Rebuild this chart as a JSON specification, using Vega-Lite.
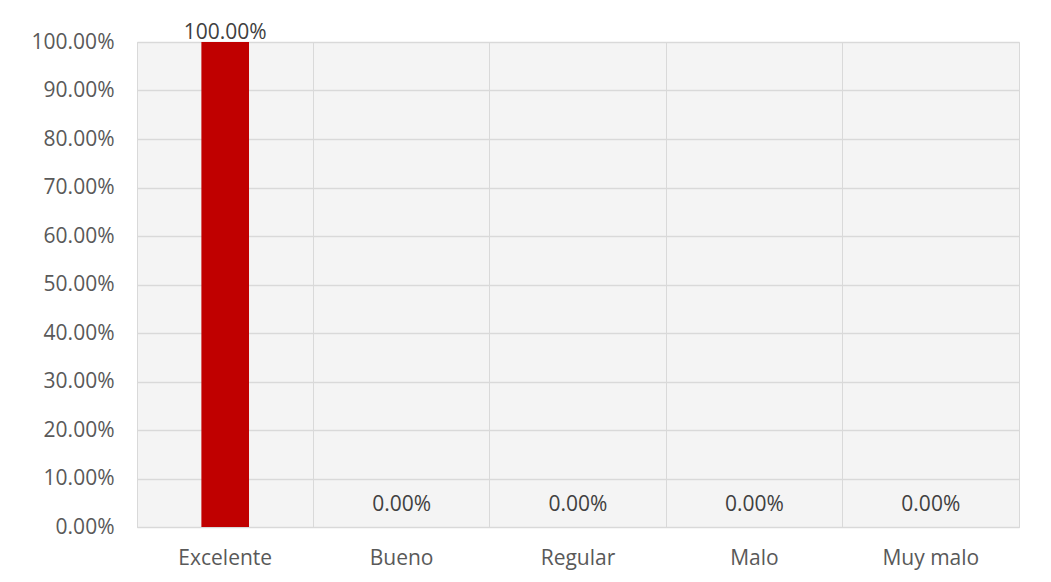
{
  "$schema": "https://vega.github.io/schema/vega-lite/v6.json",
  "width": 882,
  "height": 485,
  "autosize": {"type": "none"},
  "padding": {"left": 137, "top": 42, "right": 32, "bottom": 55},
  "background": "white",
  "config": {
    "font": "Open Sans",
    "view": {"stroke": "#d9d9d9", "strokeWidth": 1, "fill": "#f4f4f4"}
  },
  "data": {
    "values": [
      {"categoria": "Excelente", "porcentaje": 1.0},
      {"categoria": "Bueno", "porcentaje": 0.0},
      {"categoria": "Regular", "porcentaje": 0.0},
      {"categoria": "Malo", "porcentaje": 0.0},
      {"categoria": "Muy malo", "porcentaje": 0.0}
    ]
  },
  "encoding": {
    "x": {
      "field": "categoria",
      "type": "nominal",
      "sort": null,
      "scale": {"paddingInner": 0, "paddingOuter": 0},
      "axis": {
        "title": null,
        "labelAngle": 0,
        "labelFont": "Open Sans",
        "labelFontSize": 21,
        "labelColor": "#595959",
        "labelPadding": 20,
        "ticks": false,
        "domain": true,
        "domainColor": "#d9d9d9",
        "grid": true,
        "gridColor": "#d9d9d9",
        "bandPosition": 0
      }
    },
    "y": {
      "field": "porcentaje",
      "type": "quantitative",
      "scale": {"domain": [0, 1], "nice": false},
      "axis": {
        "title": null,
        "format": ".2%",
        "values": [0, 0.1, 0.2, 0.3, 0.4, 0.5, 0.6, 0.7, 0.8, 0.9, 1.0],
        "labelFont": "Open Sans",
        "labelFontSize": 21,
        "labelColor": "#595959",
        "labelPadding": 23,
        "ticks": false,
        "domain": false,
        "grid": true,
        "gridColor": "#d9d9d9",
        "gridWidth": 1.5
      }
    }
  },
  "layer": [
    {
      "mark": {"type": "bar", "color": "#c00000", "width": {"band": 0.27}}
    },
    {
      "transform": [{"filter": "datum.porcentaje > 0.5"}],
      "mark": {"type": "text", "baseline": "alphabetic", "dy": -3, "fontSize": 21, "color": "#404040", "font": "Open Sans"},
      "encoding": {"text": {"field": "porcentaje", "format": ".2%"}}
    },
    {
      "transform": [{"filter": "datum.porcentaje <= 0.5"}],
      "mark": {"type": "text", "baseline": "alphabetic", "dy": -16, "fontSize": 21, "color": "#404040", "font": "Open Sans"},
      "encoding": {"text": {"field": "porcentaje", "format": ".2%"}}
    }
  ]
}
